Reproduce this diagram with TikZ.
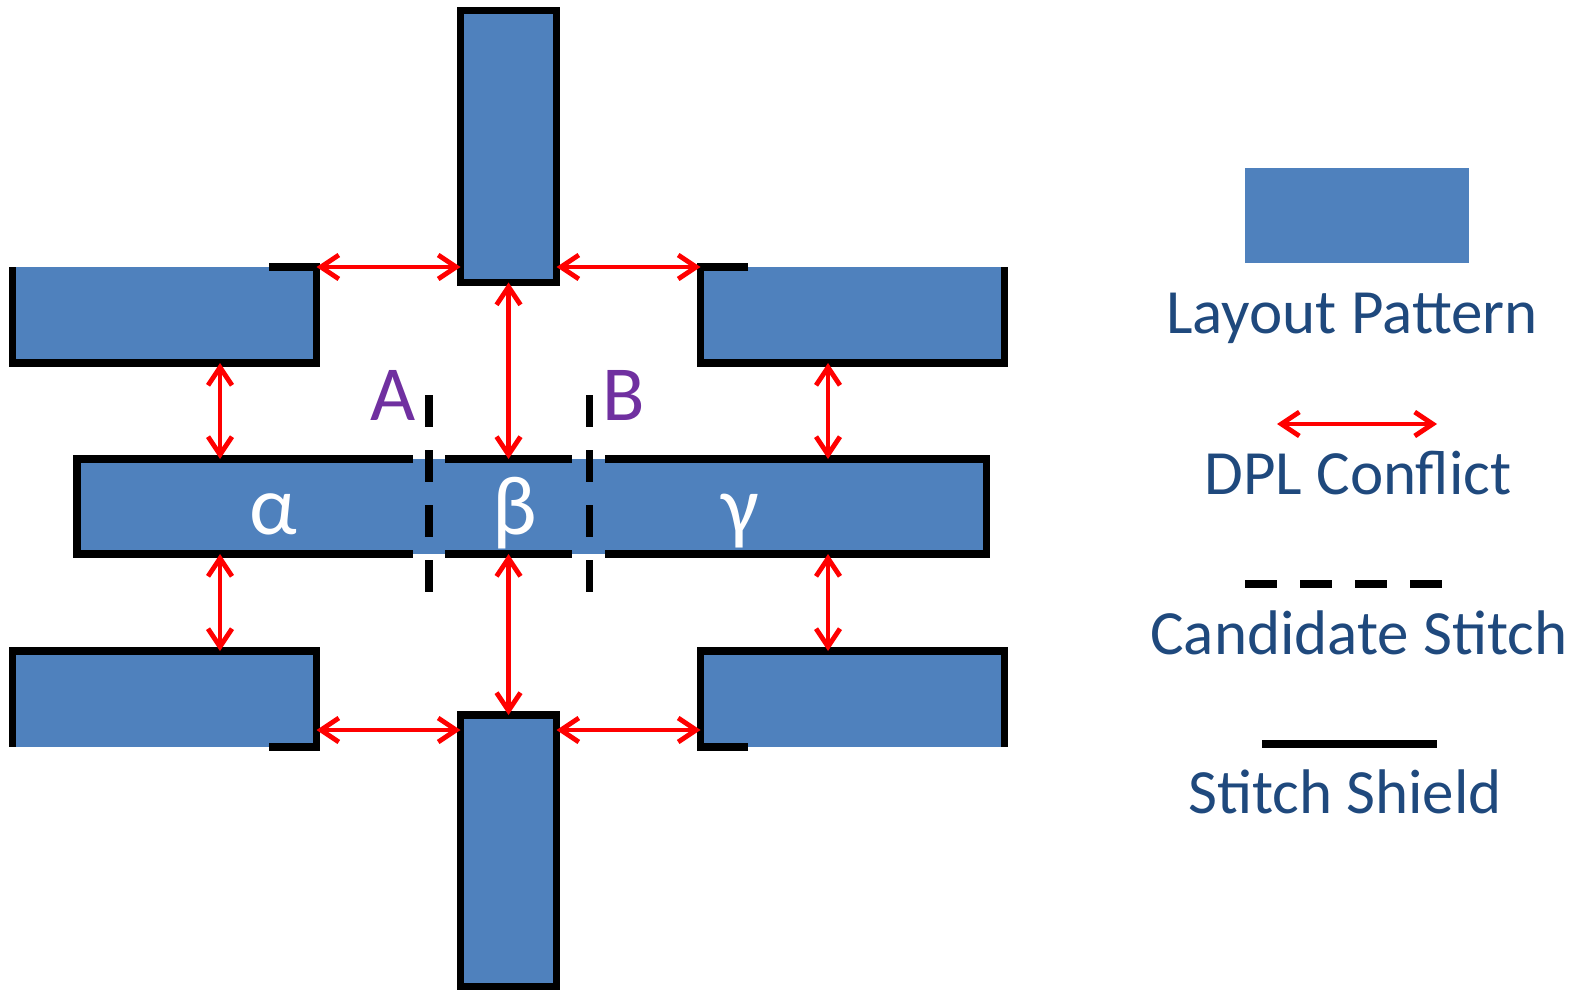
\documentclass[tikz,border=0pt]{standalone}
\usepackage{fontspec}
\setmainfont{Carlito}
\usepackage{tikz}
\usetikzlibrary{arrows.meta, calc}
\definecolor{PatBlue}{HTML}{4F81BD}
\definecolor{LegendBlue}{HTML}{1F497D}
\definecolor{StitchPurple}{HTML}{7030A0}

\begin{document}
\begin{tikzpicture}[
  x=0.5pt, y=-0.5pt,
  patbox/.style={
    rectangle, fill=PatBlue,
    inner sep=0pt, outer sep=0pt
  },
  hbar/.style={patbox, minimum width=152pt, minimum height=48pt},
  vbar/.style={patbox, minimum width=48pt, minimum height=136pt,
    draw=black, line width=3.75pt},
  shield/.style={draw=black, line width=3.75pt, line join=miter},
  stitch/.style={draw=black, line width=3.75pt, dash pattern=on 16pt off 11.5pt},
  conflict/.style={draw=red, line width=2.4pt,
    {Straight Barb[length=9pt,width=12pt]}-{Straight Barb[length=9pt,width=12pt]}},
  greek/.style={text=white, font=\fontsize{42}{46}\selectfont, anchor=base, inner sep=0pt},
  stitchlbl/.style={text=StitchPurple, font=\fontsize{39}{43}\selectfont, anchor=base, inner sep=0pt},
  legtext/.style={text=LegendBlue, font=\fontsize{31.5}{36}\selectfont, anchor=base, inner sep=0pt},
]
\useasboundingbox (0,0) rectangle (1587,990);

% Layout patterns
\node[hbar] (tl) at (164.5,315) {};
\node[hbar] (tr) at (852.5,315) {};
\node[hbar] (bl) at (164.5,699) {};
\node[hbar] (br) at (852.5,699) {};
\node[vbar] (vtop) at (508.5,146.5) {};
\node[vbar] (vbot) at (508.5,851) {};
\node[patbox, minimum width=454.75pt, minimum height=47.5pt] (mid) at (531.75,506.5) {};

% Stitch shields
\draw[shield] (269,267) -- (tl.north east) -- (tl.south east) -- (tl.south west) -- (tl.north west);
\draw[shield] (748,267) -- (tr.north west) -- (tr.south west) -- (tr.south east) -- (tr.north east);
\draw[shield] (269,747) -- (bl.south east) -- (bl.north east) -- (bl.north west) -- (bl.south west);
\draw[shield] (748,747) -- (br.south west) -- (br.north west) -- (br.north east) -- (br.south east);
\draw[shield] (413,459) -- (mid.north west) -- (mid.south west) -- (413,554);
\draw[shield] (445,459) -- (572,459);
\draw[shield] (445,554) -- (572,554);
\draw[shield] (605,459) -- (mid.north east) -- (mid.south east) -- (605,554);

% Candidate stitches
\coordinate (sA1) at (429,395);
\coordinate (sA2) at (429,594);
\coordinate (sB1) at (589.5,395);
\coordinate (sB2) at (589.5,594);
\draw[stitch] (sA1) -- (sA2);
\draw[stitch] (sB1) -- (sB2);
\node[stitchlbl] (lblA) at (393,420) {A};
\node[stitchlbl] (lblB) at (624,420) {B};

% Polygon names
\node[greek] (alpha) at (273,534) {α};
\node[greek] (beta) at (515,534) {β};
\node[greek] (gamma) at (740,534) {γ};

% DPL conflicts
\coordinate (colL) at (220,0);
\coordinate (colR) at (828,0);
\coordinate (rowB) at (0,730);
\draw[conflict] (tl.north east) -- (tl.north east -| vtop.west);
\draw[conflict] (vtop.east |- tr.north west) -- (tr.north west);
\draw[conflict] (vtop.south) -- (vtop.south |- mid.north);
\draw[conflict] (tl.south -| colL) -- (mid.north -| colL);
\draw[conflict] (tr.south -| colR) -- (mid.north -| colR);
\draw[conflict] (mid.south -| colL) -- (bl.north -| colL);
\draw[conflict] (vbot.north |- mid.south) -- (vbot.north);
\draw[conflict] (mid.south -| colR) -- (br.north -| colR);
\draw[conflict] (bl.east |- rowB) -- (vbot.west |- rowB);
\draw[conflict] (vbot.east |- rowB) -- (br.west |- rowB);

% Legend
\node[patbox, minimum width=112pt, minimum height=47.5pt] (legpat) at (1357,215.5) {};
\node[legtext] (legpattxt) at (1352,333) {Layout Pattern};
\coordinate (lc1) at (1277,424);
\coordinate (lc2) at (1437,424);
\draw[conflict] (lc1) -- (lc2);
\node[legtext] (legconftxt) at (1358,494) {DPL Conflict};
\coordinate (ls1) at (1245,584);
\coordinate (ls2) at (1444,584);
\draw[stitch] (ls1) -- (ls2);
\node[legtext] (legstitchtxt) at (1359,654) {Candidate Stitch};
\coordinate (lh1) at (1262,744);
\coordinate (lh2) at (1437,744);
\draw[shield] (lh1) -- (lh2);
\node[legtext] (legshieldtxt) at (1345,813) {Stitch Shield};

\end{tikzpicture}
\end{document}
